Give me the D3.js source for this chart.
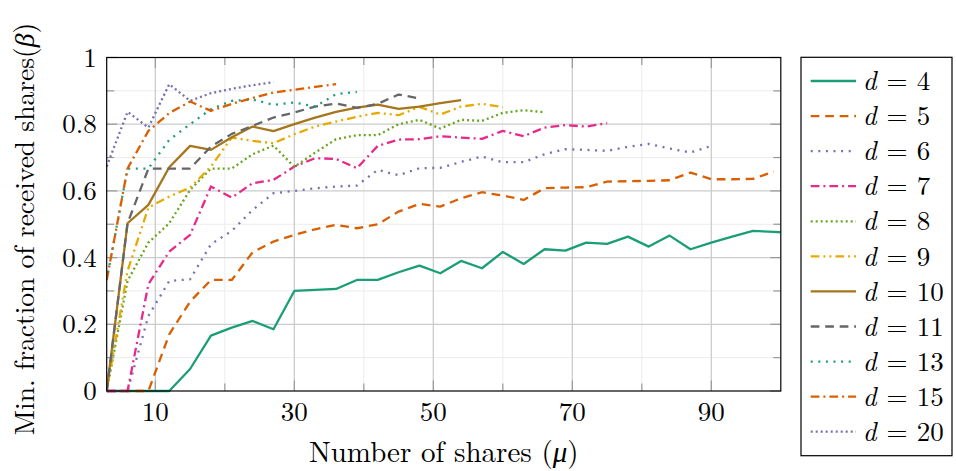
<!DOCTYPE html>
<html><head><meta charset="utf-8">
<script src="https://cdn.jsdelivr.net/npm/d3@7"></script>
<style>
body{margin:0;background:#fff}
text{font-family:"Latin Modern Roman","CMU Serif","Liberation Serif",serif;fill:#000}
</style>
</head><body>
<svg id="c" width="956" height="471"></svg>
<script>
// ---- data ----
const shares = [3,6,9,12,15,18,21,24,27,30,33,36,39,42,45,48,51,54,57,60,63,66,69,72,75,78,81,84,87,90,93,96,99,100];
const seriesNames = ["d = 4","d = 5","d = 6","d = 7","d = 8","d = 9","d = 10","d = 11","d = 13","d = 15","d = 20"];
const dLabels = ["4","5","6","7","8","9","10","11","13","15","20"];
const d4  = [0,0,0,0,0.066,0.166,0.19,0.21,0.185,0.30,0.303,0.306,0.333,0.333,0.356,0.376,0.353,0.39,0.368,0.417,0.381,0.425,0.421,0.445,0.441,0.463,0.433,0.466,0.425,0.445,0.463,0.48,0.477,0.476];
const d5  = [0,0,0,0.17,0.268,0.333,0.333,0.416,0.448,0.468,0.485,0.498,0.488,0.50,0.538,0.561,0.553,0.578,0.596,0.586,0.573,0.608,0.61,0.611,0.628,0.629,0.63,0.632,0.655,0.635,0.635,0.636,0.658];
const d6  = [0,0,0.225,0.33,0.335,0.44,0.48,0.543,0.593,0.60,0.608,0.613,0.616,0.663,0.647,0.668,0.669,0.687,0.703,0.686,0.686,0.71,0.725,0.723,0.72,0.732,0.741,0.727,0.715,0.735];
const d7  = [0,0,0.32,0.418,0.468,0.613,0.58,0.623,0.633,0.673,0.698,0.696,0.668,0.735,0.754,0.755,0.764,0.76,0.756,0.78,0.764,0.79,0.797,0.793,0.803];
const d8  = [0,0.33,0.445,0.503,0.603,0.667,0.667,0.71,0.736,0.672,0.715,0.755,0.767,0.767,0.80,0.813,0.787,0.813,0.81,0.834,0.842,0.836];
const d9  = [0,0.36,0.55,0.583,0.61,0.673,0.76,0.75,0.743,0.77,0.793,0.808,0.822,0.834,0.827,0.852,0.829,0.853,0.861,0.851];
const d10 = [0,0.503,0.558,0.671,0.735,0.723,0.761,0.793,0.779,0.80,0.82,0.837,0.85,0.859,0.846,0.853,0.863,0.872];
const d11 = [0,0.503,0.667,0.667,0.667,0.733,0.771,0.795,0.82,0.835,0.853,0.862,0.849,0.861,0.889,0.877];
const d13 = [0.333,0.667,0.667,0.753,0.80,0.845,0.87,0.874,0.858,0.865,0.853,0.89,0.897];
const d15 = [0.333,0.667,0.78,0.833,0.868,0.84,0.861,0.879,0.895,0.903,0.912,0.92];
const d20 = [0.673,0.837,0.79,0.92,0.87,0.893,0.906,0.917,0.926];
const allValues = [d4,d5,d6,d7,d8,d9,d10,d11,d13,d15,d20];
const xTickLabels = [10,30,50,70,90];
const xMinorTicks = [20,40,60,80];
const yTickLabels = [0,0.2,0.4,0.6,0.8,1];
const yMinorTicks = [0.1,0.3,0.5,0.7,0.9];

// ---- styles ----
const colors = ["#1b9e77","#d95f02","#7570b3","#e7298a","#66a61e","#e6ab02","#a6761d","#666666","#1b9e77","#d95f02","#7570b3"];
const DASHED = "8.7,5.8", DOTTED = "2,5.6", DASHDOT = "8.7,4,2,4", DDOTTED = "2,3", DASHDOTDOT = "8.7,4,2,4,2,4";
const dashes = [null,DASHED,DOTTED,DASHDOT,DDOTTED,DASHDOTDOT,null,DASHED,DOTTED,DASHDOT,DDOTTED];
const LW = 2.3;

const svg = d3.select("#c");
const L = 106.7, R = 780.8, T = 57.5, B = 391;
const x = d3.scaleLinear().domain([3,100]).range([L,R]);
const y = d3.scaleLinear().domain([0,1]).range([B,T]);

// grid
const g = svg.append("g");
g.selectAll(".gxm").data(xMinorTicks).join("line")
  .attr("x1",d=>x(d)).attr("x2",d=>x(d)).attr("y1",T).attr("y2",B)
  .attr("stroke","#ececec").attr("stroke-width",1);
g.selectAll(".gym").data(yMinorTicks).join("line")
  .attr("x1",L).attr("x2",R).attr("y1",d=>y(d)).attr("y2",d=>y(d))
  .attr("stroke","#ececec").attr("stroke-width",1);
g.selectAll(".gx").data(xTickLabels).join("line")
  .attr("x1",d=>x(d)).attr("x2",d=>x(d)).attr("y1",T).attr("y2",B)
  .attr("stroke","#cccccc").attr("stroke-width",1.3);
g.selectAll(".gy").data(yTickLabels.filter(v=>v>0&&v<1)).join("line")
  .attr("x1",L).attr("x2",R).attr("y1",d=>y(d)).attr("y2",d=>y(d))
  .attr("stroke","#cccccc").attr("stroke-width",1.3);

// ticks (inward, all sides)
const tk = svg.append("g").attr("stroke","#999").attr("stroke-width",1.2);
function vt(vals,len){
  vals.forEach(v=>{
    tk.append("line").attr("x1",x(v)).attr("x2",x(v)).attr("y1",B).attr("y2",B-len);
    tk.append("line").attr("x1",x(v)).attr("x2",x(v)).attr("y1",T).attr("y2",T+len);
  });
}
function ht(vals,len){
  vals.forEach(v=>{
    tk.append("line").attr("y1",y(v)).attr("y2",y(v)).attr("x1",L).attr("x2",L+len);
    tk.append("line").attr("y1",y(v)).attr("y2",y(v)).attr("x1",R).attr("x2",R-len);
  });
}
vt(xTickLabels,10.5); vt(xMinorTicks,7.5);
ht(yTickLabels,10.5); ht(yMinorTicks,7.5);

// lines
svg.append("clipPath").attr("id","clip").append("rect")
  .attr("x",L).attr("y",T-2).attr("width",R-L).attr("height",B-T+4);
const line = d3.line().x((d,i)=>x(shares[i])).y(d=>y(d));
const lg = svg.append("g").attr("clip-path","url(#clip)");
allValues.forEach((vals,k)=>{
  lg.append("path").datum(vals).attr("d",line)
    .attr("fill","none").attr("stroke",colors[k]).attr("stroke-width",LW)
    .attr("stroke-linejoin","round")
    .attr("stroke-dasharray",dashes[k]);
});

// frame
svg.append("rect").attr("x",L).attr("y",T).attr("width",R-L).attr("height",B-T)
  .attr("fill","none").attr("stroke","#000").attr("stroke-width",1.2);

// tick labels
svg.selectAll(".xl").data(xTickLabels).join("text")
  .attr("x",d=>x(d)).attr("y",B+30).attr("text-anchor","middle")
  .attr("font-size",27).text(d=>d);
svg.selectAll(".yl").data(yTickLabels).join("text")
  .attr("x",L-10).attr("y",d=>y(d)).attr("dy","0.34em").attr("text-anchor","end")
  .attr("font-size",27).text(d=>d);

// axis labels
const xl = svg.append("text").attr("x",(L+R)/2).attr("y",461.5).attr("text-anchor","middle").attr("font-size",29);
xl.append("tspan").text("Number of shares (");
xl.append("tspan").attr("font-style","italic").text("μ");
xl.append("tspan").text(")");
const yl = svg.append("text").attr("transform",`translate(34,229) rotate(-90)`)
  .attr("text-anchor","middle").attr("font-size",27.5);
yl.append("tspan").text("Min. fraction of received shares(");
yl.append("tspan").attr("font-style","italic").text("β");
yl.append("tspan").text(")");

// legend
svg.append("rect").attr("x",801).attr("y",57.3).attr("width",151).attr("height",398.4)
  .attr("fill","#fff").attr("stroke","#000").attr("stroke-width",1.2);
const ly = d3.scaleLinear().domain([0,10]).range([81,431.7]);
seriesNames.forEach((nm,k)=>{
  const yy = ly(k);
  svg.append("line").attr("x1",810.7).attr("x2",856).attr("y1",yy).attr("y2",yy)
    .attr("stroke",colors[k]).attr("stroke-width",LW).attr("stroke-dasharray",dashes[k]);
  svg.append("text").attr("x",862.7).attr("y",yy).attr("dy","0.34em").attr("font-size",27)
    .attr("font-style","italic").text("d");
  svg.append("text").attr("x",897).attr("y",yy).attr("dy","0.34em").attr("font-size",27)
    .attr("text-anchor","middle").text("=");
  svg.append("text").attr("x",916.7).attr("y",yy).attr("dy","0.34em").attr("font-size",27)
    .text(dLabels[k]);
});
</script>
</body></html>
